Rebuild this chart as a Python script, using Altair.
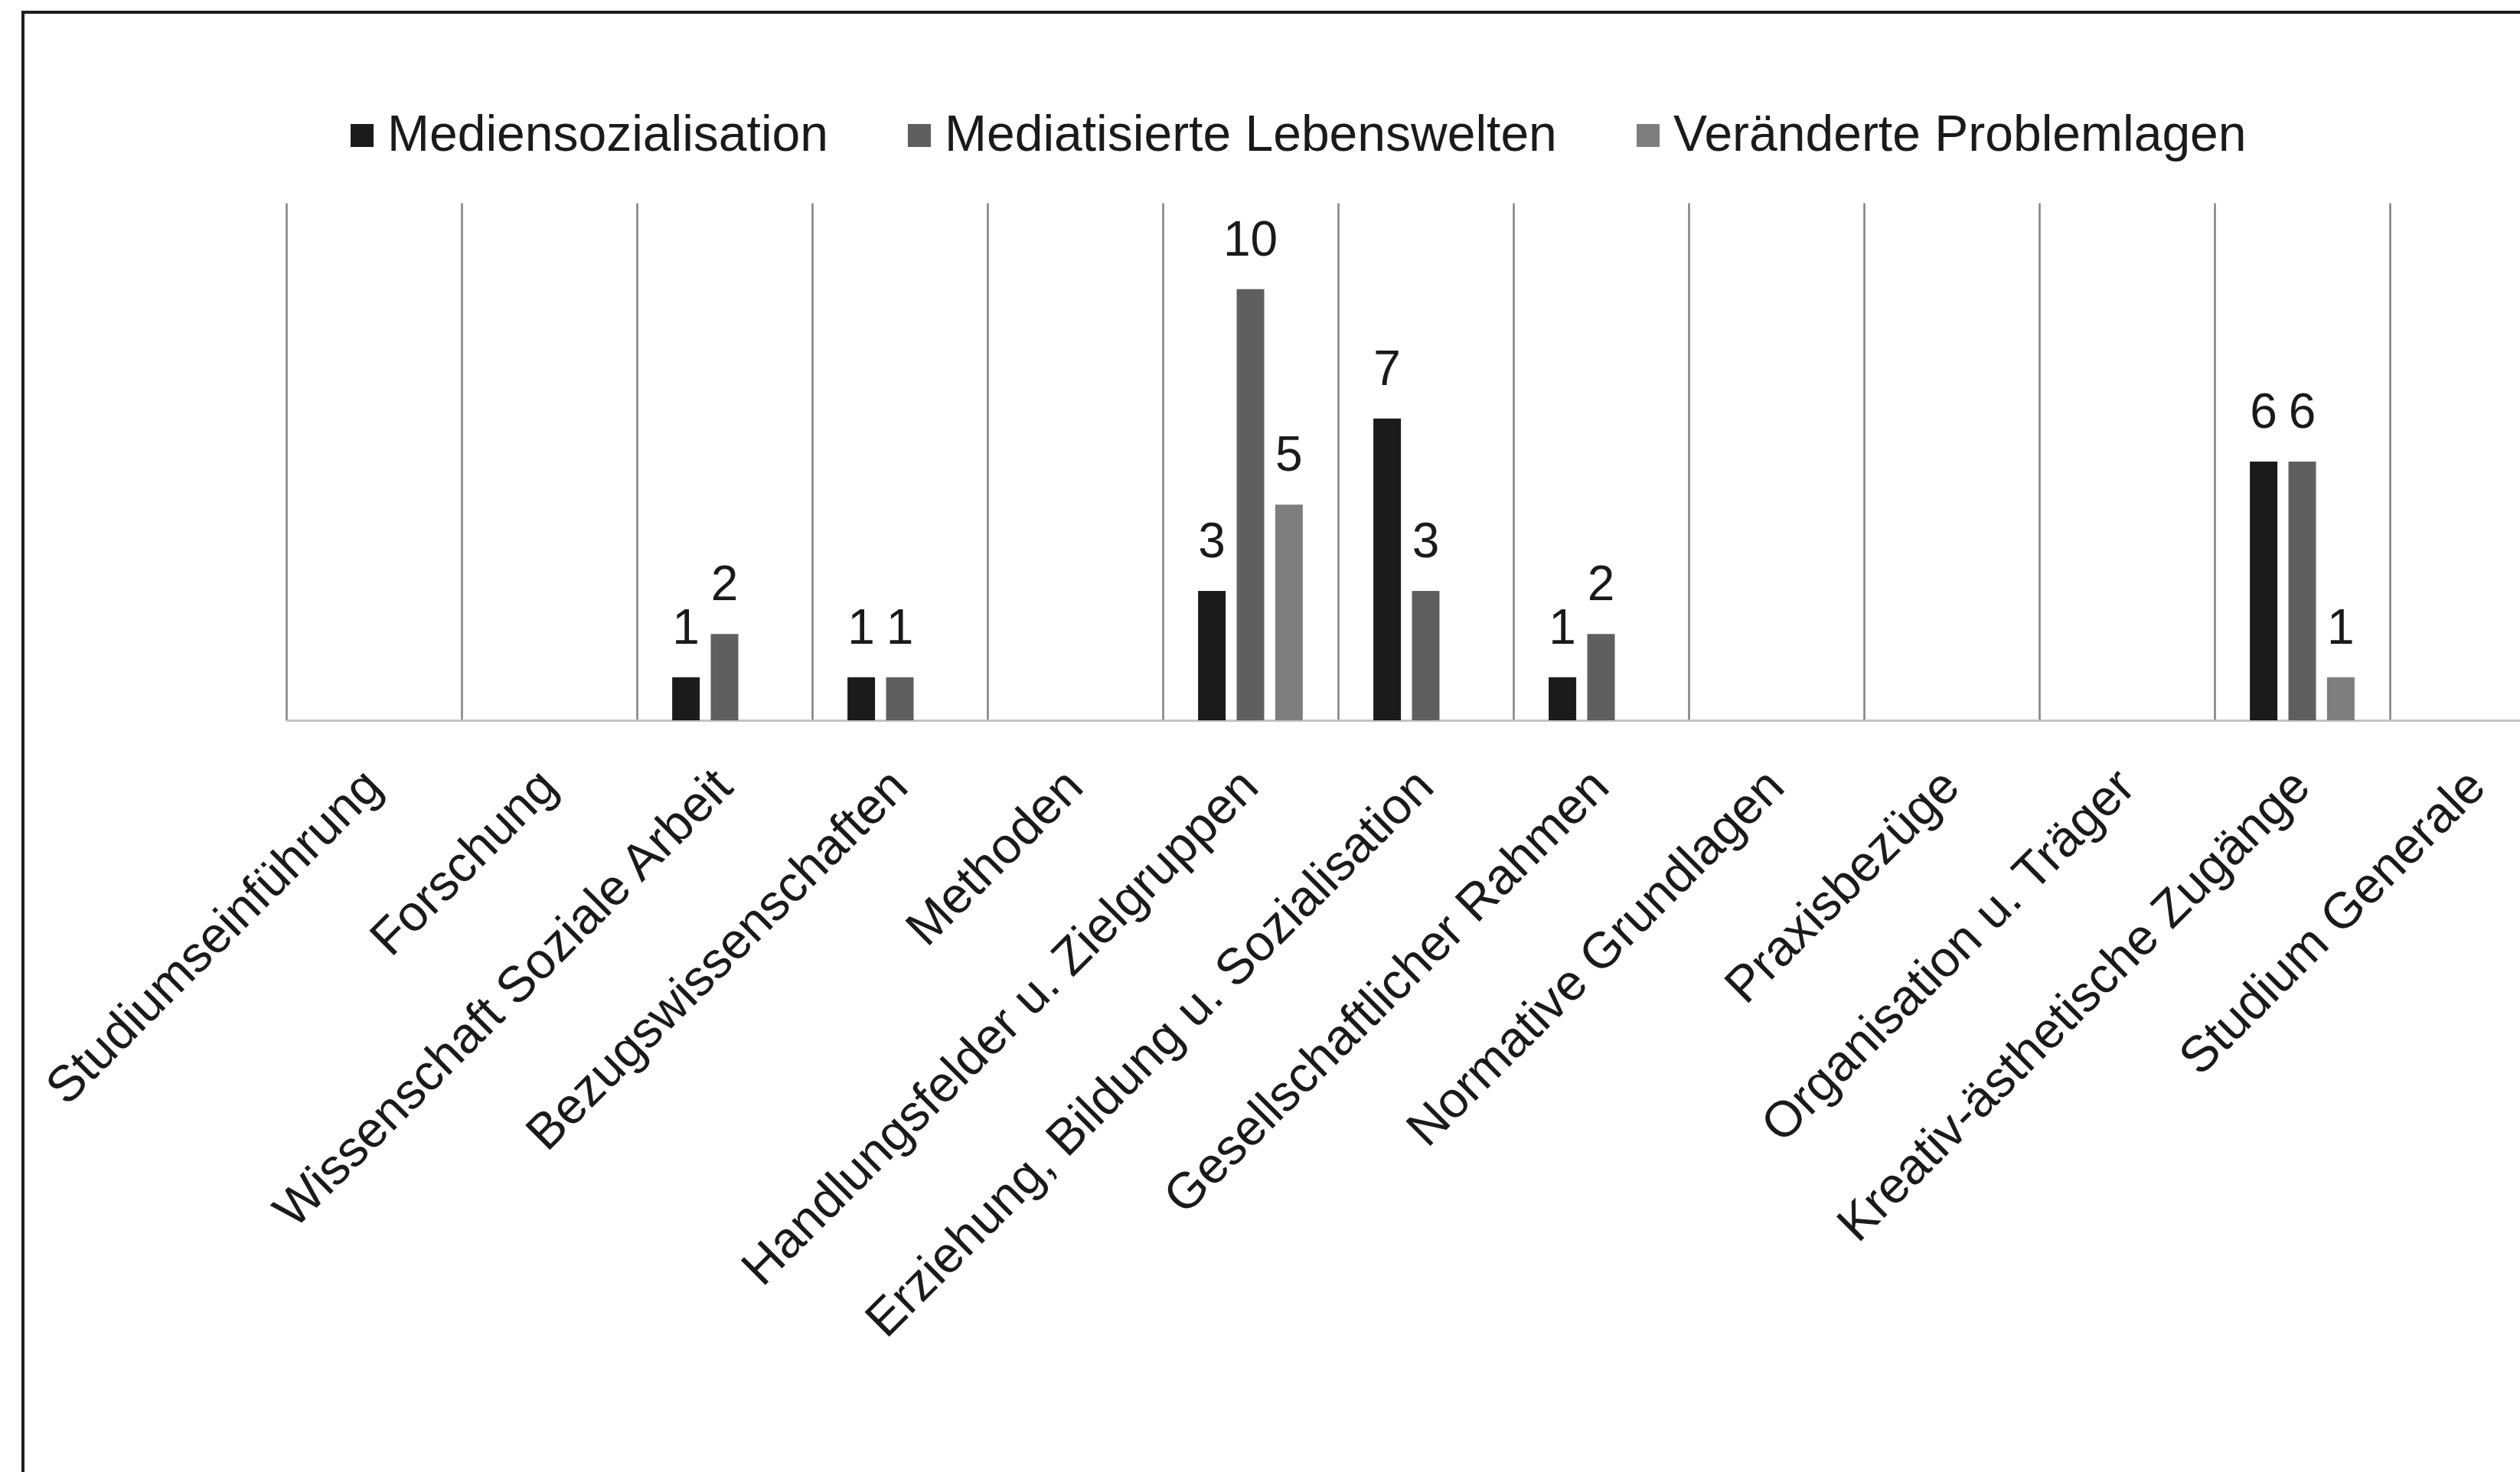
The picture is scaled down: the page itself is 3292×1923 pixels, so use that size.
import altair as alt
import pandas as pd

# Module areas of the curriculum (x axis)
categories = [
    "Studiumseinführung",
    "Forschung",
    "Wissenschaft Soziale Arbeit",
    "Bezugswissenschaften",
    "Methoden",
    "Handlungsfelder u. Zielgruppen",
    "Erziehung, Bildung u. Sozialisation",
    "Gesellschaftlicher Rahmen",
    "Normative Grundlagen",
    "Praxisbezüge",
    "Organisation u. Träger",
    "Kreativ-ästhetische Zugänge",
    "Studium Generale",
]

# Thematic series
series = [
    "Mediensozialisation",
    "Mediatisierte Lebenswelten",
    "Veränderte Problemlagen",
]

# Counts per module area, one list per series
mediensozialisation = [0, 0, 1, 1, 0, 3, 7, 1, 0, 0, 0, 6, 0]
mediatisierte_lebenswelten = [0, 0, 2, 1, 0, 10, 3, 2, 0, 0, 0, 6, 0]
veraenderte_problemlagen = [0, 0, 0, 0, 0, 5, 0, 0, 0, 0, 0, 1, 0]

series_colors = ["#1b1b1b", "#5f5f5f", "#7e7e7e"]

rows = []
for name, values in zip(series, [mediensozialisation, mediatisierte_lebenswelten, veraenderte_problemlagen]):
    for cat, v in zip(categories, values):
        if v > 0:
            rows.append({"Kategorie": cat, "Reihe": name, "Wert": v})
df = pd.DataFrame(rows)

FONT = "Liberation Sans"
PAGE_W, PAGE_H = 3292, 1923
PAD_LEFT, PAD_TOP = 374, 265
PLOT_W = PAGE_W - PAD_LEFT
PLOT_H = 676
PAD_BOTTOM = PAGE_H - PAD_TOP - PLOT_H
BAND = 229
BAND_SPAN = BAND * len(categories)  # last category runs past the right edge

x_enc = alt.X(
    "Kategorie:N",
    sort=categories,
    scale=alt.Scale(domain=categories, range=[0, BAND_SPAN], paddingInner=0, paddingOuter=0),
    axis=alt.Axis(
        title=None,
        labelAngle=-45,
        labelFont=FONT,
        labelFontSize=66,
        labelColor="#1a1a1a",
        labelLimit=3000,
        labelOverlap=False,
        labelPadding=53,
        labelOffset=-23,
        bandPosition=0,
        ticks=False,
        tickSize=0,
        domainColor="#c4c4c4",
        domainWidth=3,
        grid=True,
        gridColor="#808080",
        gridWidth=2.5,
    ),
)
xoff_enc = alt.XOffset(
    "Reihe:N",
    sort=series,
    scale=alt.Scale(domain=series, paddingInner=0.286, paddingOuter=0.915),
)
y_enc = alt.Y("Wert:Q", scale=alt.Scale(domain=[0, 12]), axis=None)

bars = alt.Chart(df).mark_bar().encode(
    x=x_enc,
    xOffset=xoff_enc,
    y=y_enc,
    color=alt.Color(
        "Reihe:N",
        sort=series,
        scale=alt.Scale(domain=series, range=series_colors),
        legend=alt.Legend(
            title=None,
            orient="none",
            direction="horizontal",
            legendX=66,
            legendY=-121,
            symbolType="square",
            symbolSize=900,
            symbolStrokeWidth=0,
            labelFont=FONT,
            labelFontSize=66,
            labelColor="#1a1a1a",
            labelOffset=0,
            labelLimit=2000,
            columnPadding=86,
            padding=0,
        ),
    ),
)

labels = alt.Chart(df).mark_text(
    font=FONT, fontSize=64, color="#1a1a1a", baseline="alphabetic", align="center", dy=-44
).encode(
    x=x_enc,
    xOffset=xoff_enc,
    y=y_enc,
    text=alt.Text("Wert:Q"),
)

# Outer frame around the figure
frame = alt.Chart(pd.DataFrame({"f": [0]})).mark_rect(
    fill="transparent", stroke="#1e1e1e", strokeWidth=4
).encode(
    x=alt.value(30 - PAD_LEFT),
    y=alt.value(16 - PAD_TOP),
    x2=alt.value(PLOT_W + 40),
    y2=alt.value(PLOT_H + PAD_BOTTOM + 40),
)

chart = alt.layer(frame, bars, labels).properties(
    width=PLOT_W,
    height=PLOT_H,
    autosize=alt.AutoSizeParams(type="none"),
    padding={"left": PAD_LEFT, "top": PAD_TOP, "right": 0, "bottom": PAD_BOTTOM},
    background="white",
).configure_view(stroke="transparent")

chart.save("out.html", embed_options={"renderer": "svg", "actions": False})
